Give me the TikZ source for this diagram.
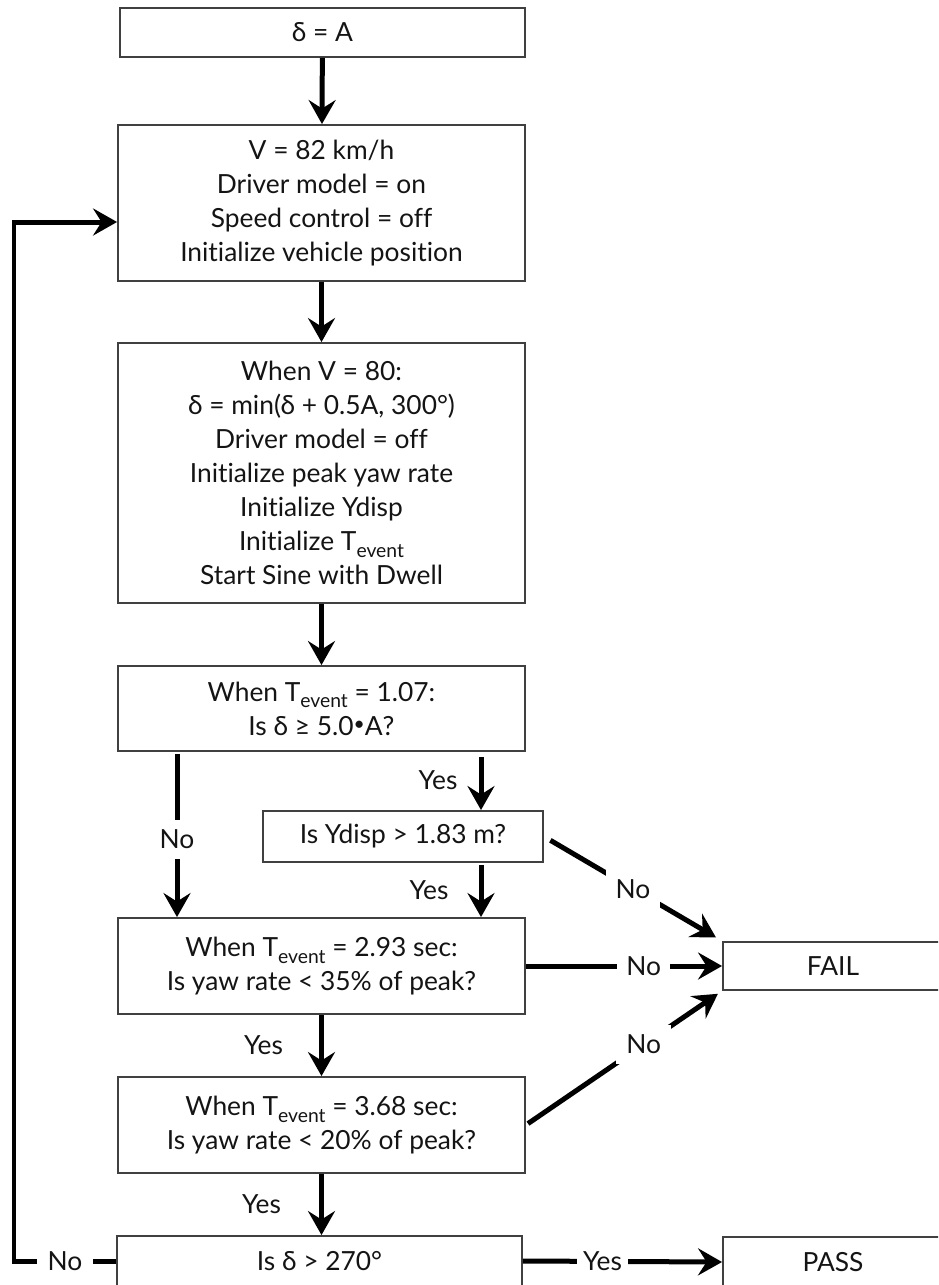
\documentclass[tikz,border=0pt]{standalone}
\usepackage{fontspec}
\setmainfont{Lato}[Ligatures=NoCommon]
\usetikzlibrary{arrows.meta}
\newcommand\Tev{T\raisebox{-0.5ex}{\fontsize{11}{11}\selectfont event}}
\newcommand\smdot{\raisebox{0.35ex}{\fontsize{11}{11}\selectfont •}}
\begin{document}
\begin{tikzpicture}[x=0.02cm,y=-0.02cm,
  box/.style={draw=black!75, line width=1.1pt, align=center, inner sep=0pt,
    text=black!92, font=\fontsize{15}{19.4}\selectfont},
  conn/.style={line width=0.1cm, black},
  arr/.style={conn, -{Stealth[length=0.48cm,width=0.54cm,inset=0.17cm]}},
  lbl/.style={fill=white, inner sep=0.2cm, text=black!92, font=\fontsize{15}{16}\selectfont},
  ylbl/.style={inner sep=0pt, text=black!92, font=\fontsize{15}{16}\selectfont}]
\path[use as bounding box] (0,0) rectangle (938,1285);
\clip (0,0) rectangle (938,1285);

\node[box, minimum width=8.1cm, minimum height=0.98cm] (b1) at (322.5,32.5) {δ = A};
\node[box, minimum width=8.14cm, minimum height=3.12cm] (b2) at (321.5,203)
  {V = 82 km/h\\ Driver model = on\\ Speed control = off\\ Initialize vehicle position};
\node[box, minimum width=8.14cm, minimum height=5.2cm] (b3) at (321.5,473)
  {When V = 80:\\ δ = min(δ + 0.5A, 300°)\\ Driver model = off\\ Initialize peak yaw rate\\
   Initialize Ydisp\\ Initialize \Tev\\ Start Sine with Dwell};
\node[box, minimum width=8.14cm, minimum height=1.7cm] (b4) at (321.5,708.5)
  {When \Tev{} = 1.07:\\ Is δ ≥ 5.0\smdot A?};
\node[box, minimum width=5.6cm, minimum height=1.02cm] (b5) at (403,836.5)
  {Is Ydisp > 1.83 m?};
\node[box, minimum width=8.14cm, minimum height=1.92cm] (b6) at (321.5,966)
  {When \Tev{} = 2.93 sec:\\ Is yaw rate < 35\% of peak?};
\node[box, minimum width=8.14cm, minimum height=1.92cm] (b7) at (321.5,1125)
  {When \Tev{} = 3.68 sec:\\ Is yaw rate < 20\% of peak?};
\node[box, minimum width=8.1cm, minimum height=1.0cm] (b8) at (319.5,1261)
  {Is δ > 270°};
\node[box, minimum width=4.4cm, minimum height=0.96cm] (fail) at (833,966) {FAIL};
\node[box, minimum width=4.4cm, minimum height=1.0cm] (pass) at (833,1262) {PASS};

\coordinate (nocol) at (177,0);
\coordinate (yescol) at (481,0);
\coordinate (c1) at (14,1261);
\coordinate (c2) at (14,222);

\draw[arr] (b1) -- (b2);
\draw[arr] (b2) -- (b3);
\draw[arr] (b3) -- (b4);
\draw[arr, shorten <=0.05cm] (b4.south -| nocol) -- node[lbl, pos=0.53]{No} (b6.north -| nocol);
\draw[arr, shorten <=0.1cm] (b4.south -| yescol) -- node[ylbl, pos=0.48, left=0.42cm]{Yes} (b5.north -| yescol);
\draw[arr, shorten <=0.05cm] (b5.south -| yescol) -- node[ylbl, pos=0.5, left=0.6cm]{Yes} (b6.north -| yescol);
\draw[arr] (b6) -- node[ylbl, pos=0.5, left=0.72cm]{Yes} (b7);
\draw[arr] (b7.south) -- node[ylbl, pos=0.5, left=0.76cm]{Yes} (b7.south |- b8.north);
\draw[arr, shorten <=0.15cm, shorten >=0.14cm] (b5.east) -- node[lbl, pos=0.5]{No} (fail.north west);
\draw[arr] (b6.east) -- node[lbl, pos=0.6, inner xsep=0.18cm]{No} (fail.west);
\draw[arr, shorten <=0.05cm, shorten >=0.1cm] (b7.east) -- node[lbl, pos=0.6]{No} (fail.south west);
\draw[arr] (b8.east) -- node[lbl, pos=0.4, inner xsep=0.12cm]{Yes} (pass.west);
\draw[arr] (b8.west) -- node[lbl, pos=0.5, inner xsep=0.22cm]{No} (c1) -- (c2) -- (c2 -| b2.west);
\end{tikzpicture}
\end{document}
